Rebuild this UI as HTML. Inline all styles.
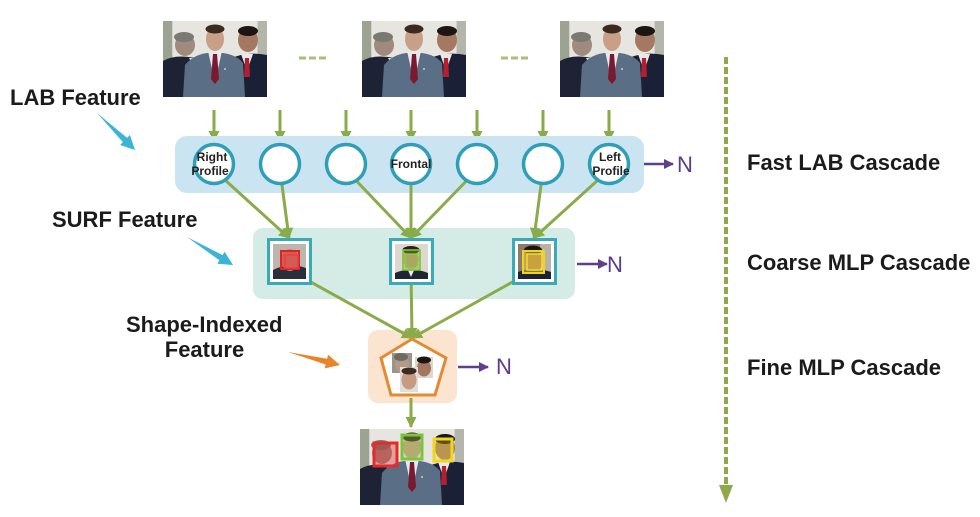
<!DOCTYPE html>
<html><head><meta charset="utf-8"><style>
html,body{margin:0;padding:0;background:#fff;}
svg{display:block;}
text{font-family:"Liberation Sans",Arial,sans-serif;}
.lbl{font-size:22px;font-weight:bold;fill:#1b1b1b;}
.ct{font-size:12px;font-weight:bold;fill:#222;}
.n{font-size:22px;fill:#5a3d8a;}
</style></head><body>
<svg width="980" height="517" viewBox="0 0 980 517" xmlns="http://www.w3.org/2000/svg">
<defs>
  <marker id="ga" markerUnits="userSpaceOnUse" markerWidth="11" markerHeight="11" refX="10" refY="5.5" orient="auto">
    <path d="M0,0 L11,5.5 L0,11 z" fill="#8aab4a"/>
  </marker>
  <marker id="pa" markerUnits="userSpaceOnUse" markerWidth="10" markerHeight="10" refX="9" refY="5" orient="auto">
    <path d="M0,0 L10,5 L0,10 z" fill="#5e3f8e"/>
  </marker>
  <g id="photo">
    <rect x="0" y="0" width="104" height="76" fill="#d3d2ca"/>
    <rect x="10" y="0" width="84" height="42" fill="#e7e5df"/>
    <rect x="0" y="0" width="9" height="52" fill="#9ca390"/>
    <rect x="95" y="0" width="9" height="44" fill="#b4b6ab"/>
    <!-- left man -->
    <path d="M0,40 Q12,33 32,37 L38,76 L0,76 z" fill="#1d2334"/>
    <ellipse cx="22" cy="24" rx="10" ry="11" fill="#a08a7e"/>
    <ellipse cx="21" cy="16" rx="10" ry="5" fill="#7b7a72"/>
    <polygon points="26,37 33,37 32,48" fill="#dfe3e8"/>
    <!-- right man -->
    <path d="M66,38 Q84,30 104,34 L104,76 L64,76 z" fill="#1a2035"/>
    <ellipse cx="85" cy="19" rx="10" ry="12" fill="#a57862"/>
    <ellipse cx="85" cy="10" rx="10" ry="5" fill="#1c1512"/>
    <polygon points="78,33 90,33 84,50" fill="#e9e9ea"/>
    <polygon points="82,37 86,37 87,56 81,56" fill="#b31f2e"/>
    <!-- centre man -->
    <path d="M22,44 Q30,34 44,32 L60,32 Q74,34 80,42 L82,76 L20,76 z" fill="#5a6e85"/>
    <ellipse cx="52" cy="18" rx="9" ry="12" fill="#c89f87"/>
    <ellipse cx="52" cy="8" rx="9.5" ry="4.5" fill="#3a2a20"/>
    <polygon points="45,30 59,30 55,48 49,48" fill="#e9e9ec"/>
    <polygon points="50,33 54,33 56,58 52,63 48,58" fill="#7b1930"/>
    <circle cx="62" cy="48" r="1" fill="#c9c9c9"/>
  </g>
</defs>

<!-- top photos -->
<use href="#photo" x="163" y="21"/>
<use href="#photo" x="362" y="21"/>
<use href="#photo" x="560" y="21"/>
<line x1="299" y1="58" x2="327" y2="58" stroke="#a9c07a" stroke-width="3" stroke-dasharray="7 3"/>
<line x1="501" y1="58" x2="529" y2="58" stroke="#a9c07a" stroke-width="3" stroke-dasharray="7 3"/>

<!-- down arrows from photos -->
<g stroke="#8aab4a" stroke-width="3" marker-end="url(#ga)">
  <line x1="214" y1="110" x2="214" y2="141"/>
  <line x1="280" y1="110" x2="280" y2="141"/>
  <line x1="346" y1="110" x2="346" y2="141"/>
  <line x1="411" y1="110" x2="411" y2="141"/>
  <line x1="477" y1="110" x2="477" y2="141"/>
  <line x1="543" y1="110" x2="543" y2="141"/>
  <line x1="609" y1="110" x2="609" y2="141"/>
</g>

<!-- bands -->
<rect x="175" y="136" width="469" height="57" rx="12" fill="#cbe4f2"/>
<rect x="253" y="228" width="322" height="71" rx="10" fill="#d5ece6"/>
<rect x="368" y="330" width="89" height="73" rx="10" fill="#fbe5d0"/>

<!-- connectors circles -> boxes -->
<g stroke="#8aab4a" stroke-width="3" marker-end="url(#ga)">
  <line x1="214" y1="170" x2="289" y2="238"/>
  <line x1="280" y1="170" x2="289" y2="238"/>
  <line x1="346" y1="170" x2="411" y2="238"/>
  <line x1="411" y1="170" x2="411" y2="238"/>
  <line x1="477" y1="170" x2="411" y2="238"/>
  <line x1="543" y1="170" x2="534" y2="238"/>
  <line x1="609" y1="170" x2="534" y2="238"/>
  <line x1="289" y1="270" x2="412" y2="338"/>
  <line x1="411" y1="270" x2="412" y2="338"/>
  <line x1="534" y1="270" x2="412" y2="338"/>
  <line x1="411" y1="398" x2="411" y2="427"/>
</g>

<!-- circles -->
<g fill="#fff" stroke="#2f9fb8" stroke-width="3.5">
  <circle cx="214" cy="164" r="19.5"/>
  <circle cx="280" cy="164" r="19.5"/>
  <circle cx="346" cy="164" r="19.5"/>
  <circle cx="411" cy="164" r="19.5"/>
  <circle cx="477" cy="164" r="19.5"/>
  <circle cx="543" cy="164" r="19.5"/>
  <circle cx="609" cy="164" r="19.5"/>
</g>
<text class="ct" x="212" y="161" text-anchor="middle">Right</text>
<text class="ct" x="210" y="175" text-anchor="middle">Profile</text>
<text class="ct" x="411" y="168" text-anchor="middle">Frontal</text>
<text class="ct" x="610" y="161" text-anchor="middle">Left</text>
<text class="ct" x="611" y="175" text-anchor="middle">Profile</text>

<!-- boxes -->
<g fill="#fff" stroke="#3aaab9" stroke-width="3">
  <rect x="268.5" y="239.5" width="42" height="44"/>
  <rect x="390.5" y="239.5" width="42" height="44"/>
  <rect x="513.5" y="239.5" width="42" height="44"/>
</g>
<!-- box1 face -->
<rect x="273" y="244" width="33" height="35" fill="#bdb6ae"/>
<path d="M273,270 Q289,262 306,268 L306,279 L273,279 z" fill="#2a2f3d"/>
<ellipse cx="290" cy="260" rx="9" ry="11" fill="#c8857b"/>
<rect x="281" y="251" width="18" height="18" fill="rgba(228,40,40,0.45)" stroke="#e02222" stroke-width="2"/>
<rect x="285" y="255" width="13" height="13" fill="none" stroke="#e84040" stroke-width="1.5"/>
<!-- box2 face -->
<rect x="395" y="244" width="33" height="35" fill="#ddd8cf"/>
<path d="M395,273 Q411,266 428,273 L428,279 L395,279 z" fill="#1f2535"/>
<polygon points="407,268 415,268 411,277" fill="#eee"/>
<ellipse cx="411" cy="259" rx="8" ry="10.5" fill="#b99274"/>
<ellipse cx="411" cy="250" rx="8.5" ry="4" fill="#2a2018"/>
<rect x="403" y="250" width="17" height="20" fill="rgba(150,205,60,0.35)" stroke="#7cc23c" stroke-width="1.6"/>
<rect x="405" y="254" width="13" height="14" fill="none" stroke="#8fd04a" stroke-width="1.2"/>
<!-- box3 face -->
<rect x="518" y="244" width="33" height="35" fill="#8c7b6a"/>
<rect x="540" y="244" width="11" height="35" fill="#b8b2a6"/>
<path d="M518,272 Q534,266 551,272 L551,279 L518,279 z" fill="#1c2234"/>
<ellipse cx="534" cy="260" rx="9" ry="11" fill="#9a6e52"/>
<ellipse cx="533" cy="250" rx="9" ry="4.5" fill="#1a1410"/>
<rect x="523" y="251" width="21" height="22" fill="rgba(245,215,40,0.5)" stroke="#f2d21c" stroke-width="2"/>
<rect x="527" y="254" width="15" height="16" fill="none" stroke="#f6e050" stroke-width="1.3"/>

<!-- pentagon -->
<polygon points="412,339 446,358 435,395 391,395 381,358" fill="#fff" stroke="#e38b33" stroke-width="3"/>
<rect x="392" y="353" width="20" height="20" fill="#9c948a"/>
<ellipse cx="402" cy="364" rx="7" ry="8.5" fill="#b59a88"/>
<ellipse cx="401" cy="357" rx="7" ry="4" fill="#6f6a62"/>
<rect x="415" y="357" width="18" height="21" fill="#ddd6cc"/>
<ellipse cx="424" cy="368" rx="7" ry="8.5" fill="#a37660"/>
<ellipse cx="424" cy="360" rx="7" ry="3.5" fill="#1d1511"/>
<rect x="400" y="367" width="18" height="25" fill="#e2ddd5"/>
<ellipse cx="409" cy="380" rx="7.5" ry="9.5" fill="#c59b82"/>
<ellipse cx="409" cy="371" rx="7.5" ry="3.5" fill="#3a2a20"/>

<!-- bottom photo -->
<use href="#photo" x="360" y="429"/>
<rect x="374" y="443" width="23" height="23" fill="rgba(230,30,30,0.35)" stroke="#e42a2a" stroke-width="3"/>
<rect x="402" y="435" width="20" height="24" fill="rgba(140,200,60,0.3)" stroke="#7dc43e" stroke-width="3"/>
<rect x="434" y="439" width="18" height="22" fill="rgba(240,220,40,0.3)" stroke="#f0d81e" stroke-width="3"/>

<!-- purple arrows and N -->
<g stroke="#5e3f8e" stroke-width="2.5" marker-end="url(#pa)">
  <line x1="644" y1="164" x2="673" y2="164"/>
  <line x1="577" y1="264" x2="607" y2="264"/>
  <line x1="458" y1="367" x2="488" y2="367"/>
</g>
<text class="n" x="677" y="172">N</text>
<text class="n" x="607" y="272">N</text>
<text class="n" x="496" y="374">N</text>

<!-- feature pointer arrows -->
<polygon points="97,113 127.1,137.9 129.9,135 135,150 120.1,145 122.9,142.1" fill="#3cb4d4"/>
<polygon points="187,237 222.6,255.1 224.6,251.7 233,265 217.4,263.7 219.4,260.3" fill="#3cb4d4"/>
<polygon points="288,352 327.1,358.7 328.1,354.8 340,365 324.7,368.4 325.7,364.5" fill="#e8852a"/>

<!-- left labels -->
<text class="lbl" x="10" y="105">LAB Feature</text>
<text class="lbl" x="52" y="227">SURF Feature</text>
<text class="lbl" x="126" y="332">Shape-Indexed</text>
<text class="lbl" x="204.5" y="357" text-anchor="middle">Feature</text>

<!-- dashed timeline -->
<line x1="726" y1="57" x2="726" y2="486" stroke="#8fa84a" stroke-width="4" stroke-dasharray="7 3"/>
<polygon points="719,485 733,485 726,503" fill="#8fa84a"/>

<!-- right labels -->
<text class="lbl" x="747" y="170">Fast LAB Cascade</text>
<text class="lbl" x="747" y="270">Coarse MLP Cascade</text>
<text class="lbl" x="747" y="375">Fine MLP Cascade</text>
</svg>
</body></html>
